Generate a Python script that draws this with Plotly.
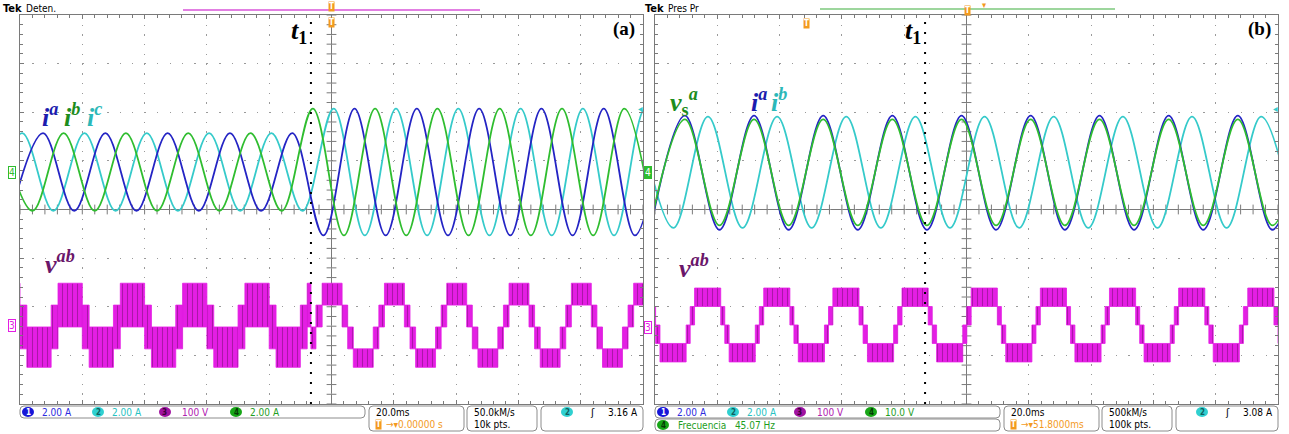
import numpy as np
import plotly.graph_objects as go

W, H = 1289, 434

# ---------------- data ----------------
# time axis in ms (20 ms/div, trigger at 0)
# ---- panel (a) ----
a_t1 = -6.6
# ch1 blue  i^a : times of successive extrema (ms) and values (A)
a_ia_t = [-102.6, -92.6, -82.6, -72.6, -62.6, -52.6, -42.6, -32.6, -22.6, -12.6,
          -2.6, 7.4, 17.4, 27.4, 37.4, 47.4, 57.4, 67.4, 77.4, 87.4, 97.4, 107.4]
a_ia_v = [-1.6, 1.6, -1.6, 1.6, -1.6, 1.6, -1.6, 1.6, -1.6, 1.6,
          -2.61, 2.61, -2.61, 2.61, -2.61, 2.61, -2.61, 2.61, -2.61, 2.61, -2.61, 2.61]
# ch4 green i^b
a_ib_t = [-106.0, -96.0, -86.0, -76.0, -66.0, -56.0, -46.0, -36.0, -26.0, -16.0,
          -6.0, 4.0, 14.0, 24.0, 34.0, 44.0, 54.0, 64.0, 74.0, 84.0, 94.0, 104.0]
a_ib_v = [1.6, -1.6, 1.6, -1.6, 1.6, -1.6, 1.6, -1.6, 1.6, -1.6,
          2.61, -2.61, 2.61, -2.61, 2.61, -2.61, 2.61, -2.61, 2.61, -2.61, 2.61, -2.61]
# ch2 cyan i^c
a_ic_t = [-109.3, -99.3, -89.3, -79.3, -69.3, -59.3, -49.3, -39.3, -29.3, -19.3, -9.3,
          0.7, 10.7, 20.7, 30.7, 40.7, 50.7, 60.7, 70.7, 80.7, 90.7, 100.7, 110.7]
a_ic_v = [-1.6, 1.6, -1.6, 1.6, -1.6, 1.6, -1.6, 1.6, -1.6, 1.6, -1.6,
          2.61, -2.61, 2.61, -2.61, 2.61, -2.61, 2.61, -2.61, 2.61, -2.61, 2.61, -2.61]
# ch3 v^ab multilevel PWM: segment edges (ms) and switching band low/high (V)
a_vab_t = [-107.8, -100.0, -97.8, -90.0, -87.8, -80.0, -77.8, -70.0, -67.8, -60.0,
           -57.8, -50.0, -47.8, -40.0, -37.8, -30.0, -27.8, -20.0, -17.8, -10.0,
           -7.8, -6.6, -5.0, -3.0, 3.4, 5.2, 7.0, 13.4, 15.2, 17.0,
           23.4, 25.2, 27.0, 33.4, 35.2, 37.0, 43.4, 45.2, 47.0, 53.4,
           55.2, 57.0, 63.4, 65.2, 67.0, 73.4, 75.2, 77.0, 83.4, 85.2,
           87.0, 93.4, 95.2, 97.0, 103.4]
a_vab_lo = [0, -45, -83, -45, 0, -45, -83, -45, 0, -45, -83, -45, 0, -45, -83, -45,
            0, -45, -83, -45, 0, -45, 0,
            45, 0, -45, -83, -45, 0, 45, 0, -45, -83, -45, 0, 45, 0, -45, -83, -45, 0,
            45, 0, -45, -83, -45, 0, 45, 0, -45, -83, -45, 0, 45]
a_vab_hi = [90, 45, 0, 45, 90, 45, 0, 45, 90, 45, 0, 45, 90, 45, 0, 45,
            90, 45, 0, 45, 90, 0, 45,
            90, 45, 0, -45, 0, 45, 90, 45, 0, -45, 0, 45, 90, 45, 0, -45, 0, 45,
            90, 45, 0, -45, 0, 45, 90, 45, 0, -45, 0, 45, 90]

# ---- panel (b) ----
b_t1 = -13.3
b_ia_t = [-101.5, -90.4, -79.3, -68.2, -57.1, -46.0, -34.9, -23.8, -12.7, -1.6,
          9.5, 20.6, 31.6, 42.7, 53.8, 64.9, 76.0, 87.1, 98.2, 109.3]
b_ia_v = [-2.38, 2.34, -2.38, 2.34, -2.38, 2.34, -2.38, 2.34, -2.38, 2.34,
          -2.38, 2.34, -2.38, 2.34, -2.38, 2.34, -2.38, 2.34, -2.38, 2.34]
b_vs_t = [-101.5, -90.4, -79.3, -68.2, -57.1, -46.0, -34.9, -23.8, -12.7, -1.6,
          9.5, 20.6, 31.6, 42.7, 53.8, 64.9, 76.0, 87.1, 98.2, 109.3]
b_vs_v = [-11.0, 10.9, -11.0, 10.9, -11.0, 10.9, -11.0, 10.9, -11.0, 10.9,
          -11.0, 10.9, -11.0, 10.9, -11.0, 10.9, -11.0, 10.9, -11.0, 10.9]
b_ib_t = [-105.2, -94.1, -83.0, -71.9, -60.8, -49.7, -38.6, -27.5, -16.4, -5.3,
          5.8, 16.9, 28.0, 39.1, 50.2, 61.3, 72.4, 83.5, 94.6, 105.7]
b_ib_v = [2.3, -2.3, 2.3, -2.3, 2.3, -2.3, 2.3, -2.3, 2.3, -2.3,
          2.3, -2.3, 2.3, -2.3, 2.3, -2.3, 2.3, -2.3, 2.3, -2.3]
b_vab_t = [-109.5, -101.1, -99.8, -98.4, -90.0, -88.7, -87.3, -78.9, -77.6, -76.2,
           -67.8, -66.5, -65.1, -56.7, -55.4, -54.0, -45.6, -44.3, -42.9, -34.5,
           -33.2, -31.8, -23.4, -22.1, -20.7, -12.3, -11.0, -9.6, -1.2, 0.1,
           1.5, 9.9, 11.2, 12.6, 21.0, 22.3, 23.7, 32.1, 33.4, 34.8,
           43.2, 44.5, 45.9, 54.3, 55.6, 57.0, 65.4, 66.7, 68.1, 76.5,
           77.8, 79.2, 87.6, 88.9, 90.3, 98.7, 100.0, 101.4]
b_vab_lo = [
    38, 0, -38, -76, -38, 0, 38, 0, -38, -76, -38, 0, 38, 0, -38, -76, -38, 0,
    38, 0, -38, -76, -38, 0, 38, 0, -38, -76, -38, 0, 38, 0, -38, -76, -38, 0,
    38, 0, -38, -76, -38, 0, 38, 0, -38, -76, -38, 0, 38, 0, -38, -76, -38, 0,
    38, 0, -38]
b_vab_hi = [
    76, 38, 0, -38, 0, 38, 76, 38, 0, -38, 0, 38, 76, 38, 0, -38, 0, 38,
    76, 38, 0, -38, 0, 38, 76, 38, 0, -38, 0, 38, 76, 38, 0, -38, 0, 38,
    76, 38, 0, -38, 0, 38, 76, 38, 0, -38, 0, 38, 76, 38, 0, -38, 0, 38,
    76, 38, 0]

# status-bar texts
a_status = ["2.00 A", "2.00 A", "100 V", "2.00 A"]
b_status = ["2.00 A", "2.00 A", "100 V", "10.0 V"]

# ---------------- styling ----------------
BLUE = "#2424c4"
CYAN = "#35caca"
GREEN = "#2fbd2f"
MAG = "#e41ee4"
DARKP = "#6e106a"
GRID = "#9a9a9a"
FRAME = "#7a7a7a"
SERIF = "Liberation Serif, DejaVu Serif, serif"
SANS = "DejaVu Sans Condensed, DejaVu Sans, sans-serif"

X = lambda px: px / W
Y = lambda py: 1 - py / H

XA = [X(20), X(643)]
XB = [X(655), X(1278)]
YD = [Y(404), Y(15)]

fig = go.Figure()

def grat_x(domain, anchor):
    return dict(domain=domain, anchor=anchor, range=[-100, 100], dtick=20, tick0=0,
                showgrid=True, gridcolor=GRID, gridwidth=1.3, griddash="1.3px,8.4px",
                showline=True, linecolor=FRAME, linewidth=1, mirror="ticks",
                ticks="inside", ticklen=4, tickcolor=FRAME,
                minor=dict(dtick=4, ticks="inside", ticklen=3, tickcolor=FRAME, showgrid=False),
                showticklabels=False, zeroline=False, fixedrange=True)

def grat_y(domain, anchor):
    return dict(domain=domain, anchor=anchor, range=[-4, 4], dtick=1, tick0=0,
                showgrid=True, gridcolor=GRID, gridwidth=1.3, griddash="1.3px,11.16px",
                showline=True, linecolor=FRAME, linewidth=1, mirror="ticks",
                ticks="inside", ticklen=4, tickcolor=FRAME,
                minor=dict(dtick=0.2, ticks="inside", ticklen=3, tickcolor=FRAME, showgrid=False),
                showticklabels=False, zeroline=False, fixedrange=True)

def chan_y(base, anchor, rng):
    return dict(overlaying=base, anchor=anchor, range=rng, visible=False, fixedrange=True)

fig.update_layout(
    xaxis=grat_x(XA, "y"), yaxis=grat_y(YD, "x"),
    yaxis2=chan_y("y", "x", [-9.542, 6.458]),
    yaxis3=chan_y("y", "x", [-158.4, 641.6]),
    xaxis2=grat_x(XB, "y4"), yaxis4=grat_y(YD, "x2"),
    yaxis5=chan_y("y4", "x2", [-9.584, 6.499]),
    yaxis6=chan_y("y4", "x2", [-47.92, 32.49]),
    yaxis7=chan_y("y4", "x2", [-162.5, 637.5]),
)

# centre cross ticks of the graticule
for xa, ya in (("x", "y"), ("x2", "y4")):
    hx = np.arange(-100, 100.01, 4)
    vy = np.arange(-4, 4.01, 0.2)
    fig.add_trace(go.Scatter(x=hx, y=np.zeros_like(hx), xaxis=xa, yaxis=ya, mode="markers",
                             marker=dict(symbol="line-ns", size=7, line=dict(width=1, color=FRAME)),
                             hoverinfo="skip"))
    fig.add_trace(go.Scatter(x=np.zeros_like(vy), y=vy, xaxis=xa, yaxis=ya, mode="markers",
                             marker=dict(symbol="line-ew", size=7, line=dict(width=1, color=FRAME)),
                             hoverinfo="skip"))
    fig.add_shape(type="line", xref=xa, yref=ya, x0=-100, x1=100, y0=0, y1=0,
                  line=dict(color=FRAME, width=1), layer="below")
    fig.add_shape(type="line", xref=xa, yref=ya, x0=0, x1=0, y0=-4, y1=4,
                  line=dict(color=FRAME, width=1), layer="below")

def pwm(t, lo, hi, xa, ya):
    xs, ys = [], []
    for k in range(len(lo)):
        t0, t1 = t[k], t[k + 1]
        xs += [t0, t1, t1, t0, t0, None]
        ys += [lo[k], lo[k], hi[k], hi[k], lo[k], None]
    fig.add_trace(go.Scatter(x=xs, y=ys, xaxis=xa, yaxis=ya, mode="lines",
                             line=dict(width=0.8, color=MAG), fill="toself", fillcolor=MAG,
                             fillpattern=dict(shape="|", fgcolor=DARKP, fillmode="overlay",
                                              size=5, solidity=0.22),
                             hoverinfo="skip"))

def wave(t, v, xa, ya, color):
    fig.add_trace(go.Scatter(x=t, y=v, xaxis=xa, yaxis=ya, mode="lines",
                             line=dict(shape="spline", smoothing=1.0, width=1.8, color=color),
                             hoverinfo="skip"))

# panel (a)
pwm(a_vab_t, a_vab_lo, a_vab_hi, "x", "y3")
wave(a_ic_t, a_ic_v, "x", "y2", CYAN)
wave(a_ia_t, a_ia_v, "x", "y2", BLUE)
wave(a_ib_t, a_ib_v, "x", "y2", GREEN)
# panel (b)
pwm(b_vab_t, b_vab_lo, b_vab_hi, "x2", "y7")
wave(b_ib_t, b_ib_v, "x2", "y5", CYAN)
wave(b_ia_t, b_ia_v, "x2", "y5", BLUE)
wave(b_vs_t, b_vs_v, "x2", "y6", GREEN)

# t1 dotted markers
for xa, ya, t1 in (("x", "y", a_t1), ("x2", "y4", b_t1)):
    fig.add_shape(type="line", xref=xa, yref=ya, x0=t1, x1=t1, y0=-4, y1=4,
                  line=dict(color="black", width=2, dash="2px,8px"))

# ---------------- annotations ----------------
def ann(px, py, text, color="black", size=11, family=SANS, xanchor="center", **kw):
    fig.add_annotation(x=X(px), y=Y(py), xref="paper", yref="paper", text=text,
                       showarrow=False, font=dict(color=color, size=size, family=family),
                       xanchor=xanchor, yanchor="middle", **kw)

# trace labels
ann(50, 116, "<b><i>i</i><sup><i>a</i></sup></b>", "#1c1cae", 26, SERIF)
ann(72, 116, "<b><i>i</i><sup><i>b</i></sup></b>", "#1d8d1d", 26, SERIF)
ann(94, 116, "<b><i>i</i><sup><i>c</i></sup></b>", "#2cb8b8", 26, SERIF)
ann(60, 262, "<b><i>v</i><sup><i>ab</i></sup></b>", "#6a166a", 26, SERIF)
ann(684, 102, "<b><i>v</i><sub>s</sub><sup><i>a</i></sup></b>", "#1d8d1d", 26, SERIF)
ann(759, 100, "<b><i>i</i><sup><i>a</i></sup></b>", "#1c1cae", 26, SERIF)
ann(779, 100, "<b><i>i</i><sup><i>b</i></sup></b>", "#2cb8b8", 26, SERIF)
ann(694, 266, "<b><i>v</i><sup><i>ab</i></sup></b>", "#6a166a", 26, SERIF)
# t1 labels and panel tags
ann(299, 32, "<b><i>t</i><sub>1</sub></b>", "black", 26, SERIF)
ann(913, 32, "<b><i>t</i><sub>1</sub></b>", "black", 26, SERIF)
ann(624, 29, "<b>(a)</b>", "black", 19, SERIF)
ann(1259, 29, "<b>(b)</b>", "black", 19, SERIF)

# header
ann(1, 8, "<b>Tek</b>", "black", 11, SANS, "left")
ann(24, 8, "Deten.", "black", 10, SANS, "left")
ann(643, 8, "<b>Tek</b>", "black", 11, SANS, "left")
ann(666, 8, "Pres Pr", "black", 10, SANS, "left")
fig.add_shape(type="line", xref="paper", yref="paper", x0=X(183), x1=X(480), y0=Y(10), y1=Y(10),
              line=dict(color="#d855d8", width=1.5))
fig.add_shape(type="line", xref="paper", yref="paper", x0=X(820), x1=X(1115), y0=Y(9), y1=Y(9),
              line=dict(color="#3cae3c", width=1.2))
ORANGE = "#f39a1e"
for px, py in ((331, 7), (331, 22), (806, 24), (967, 11)):
    ann(px, py, "<b>T</b>", "white", 8, SANS, bgcolor=ORANGE, borderpad=0)
ann(984, 5, "▾", ORANGE, 9, SANS)

# channel markers on the left
ann(12, 172, "4", GREEN, 10, SANS, bgcolor="white", bordercolor=GREEN, borderwidth=1, borderpad=0)
ann(12, 325, "3", MAG, 10, SANS, bgcolor="white", bordercolor=MAG, borderwidth=1, borderpad=0)
ann(648, 172, "4", "white", 10, SANS, bgcolor=GREEN, bordercolor=GREEN, borderwidth=1, borderpad=0)
ann(648, 327, "3", MAG, 10, SANS, bgcolor="white", bordercolor=MAG, borderwidth=1, borderpad=0)
ann(640, 108, "◂", CYAN, 10, SANS)
ann(1275, 108, "◂", CYAN, 10, SANS)

# ---------------- status bar ----------------
def rrect(x0, y0, x1, y1, r=4):
    p = (f"M {X(x0+r)},{Y(y0)} L {X(x1-r)},{Y(y0)} Q {X(x1)},{Y(y0)} {X(x1)},{Y(y0+r)} "
         f"L {X(x1)},{Y(y1-r)} Q {X(x1)},{Y(y1)} {X(x1-r)},{Y(y1)} "
         f"L {X(x0+r)},{Y(y1)} Q {X(x0)},{Y(y1)} {X(x0)},{Y(y1-r)} "
         f"L {X(x0)},{Y(y0+r)} Q {X(x0)},{Y(y0)} {X(x0+r)},{Y(y0)} Z")
    fig.add_shape(type="path", xref="paper", yref="paper", path=p,
                  line=dict(color="#8c8c8c", width=1))

def badge(cx, cy, num, fill, tcol):
    fig.add_shape(type="circle", xref="paper", yref="paper", x0=X(cx-6), x1=X(cx+6),
                  y0=Y(cy+5), y1=Y(cy-5), fillcolor=fill, line=dict(color=fill, width=0))
    ann(cx, cy, f"<b>{num}</b>", tcol, 8, SANS)

TXT_COL = ["#2b2be0", "#26c2c2", "#b020b0", "#1e9e1e"]
BADGE = [("#1616d8", "white"), ("#2fd0d0", "#10605f"), ("#a012a0", "#3a003a"), ("#17a617", "#053805")]

for ox, texts in ((0, a_status), (635, b_status)):
    rrect(20 + ox, 406, 365 + ox, 418)
    for k, (cx, tx) in enumerate(((28, 40), (98, 110), (165, 180), (236, 248))):
        badge(cx + ox, 412, k + 1, *BADGE[k])
        ann(tx + ox, 412, texts[k], TXT_COL[k], 10, SANS, "left")
    rrect(369 + ox, 406, 464 + ox, 431)
    rrect(467 + ox, 406, 537 + ox, 431)
    rrect(541 + ox, 406, 643 + ox, 431)
    ann(374 + ox, 412, "20.0ms", "black", 10, SANS, "left")
    ann(378 + ox, 424, "<b>T</b>", "white", 8, SANS, bgcolor=ORANGE, borderpad=0)
    badge(567 + ox, 412, 2, *BADGE[1])
    ann(592 + ox, 412, "ʃ", "black", 11, SANS)

ann(384, 424, "→▾0.00000 s", ORANGE, 10, SANS, "left")
ann(472, 412, "50.0kM/s", "black", 10, SANS, "left")
ann(472, 424, "10k pts.", "black", 10, SANS, "left")
ann(640, 412, "3.16 A", "black", 10, SANS, "right")

ann(1019, 424, "→▾51.8000ms", ORANGE, 10, SANS, "left")
ann(1107, 412, "500kM/s", "black", 10, SANS, "left")
ann(1107, 424, "100k pts.", "black", 10, SANS, "left")
ann(1275, 412, "3.08 A", "black", 10, SANS, "right")
rrect(655, 419, 1000, 431)
badge(663, 425, 4, *BADGE[3])
ann(676, 425, "Frecuencia   45.07 Hz", TXT_COL[3], 10, SANS, "left")

fig.update_layout(width=W, height=H, margin=dict(l=0, r=0, t=0, b=0),
                  paper_bgcolor="white", plot_bgcolor="white", showlegend=False)

fig.write_html("out.html")
